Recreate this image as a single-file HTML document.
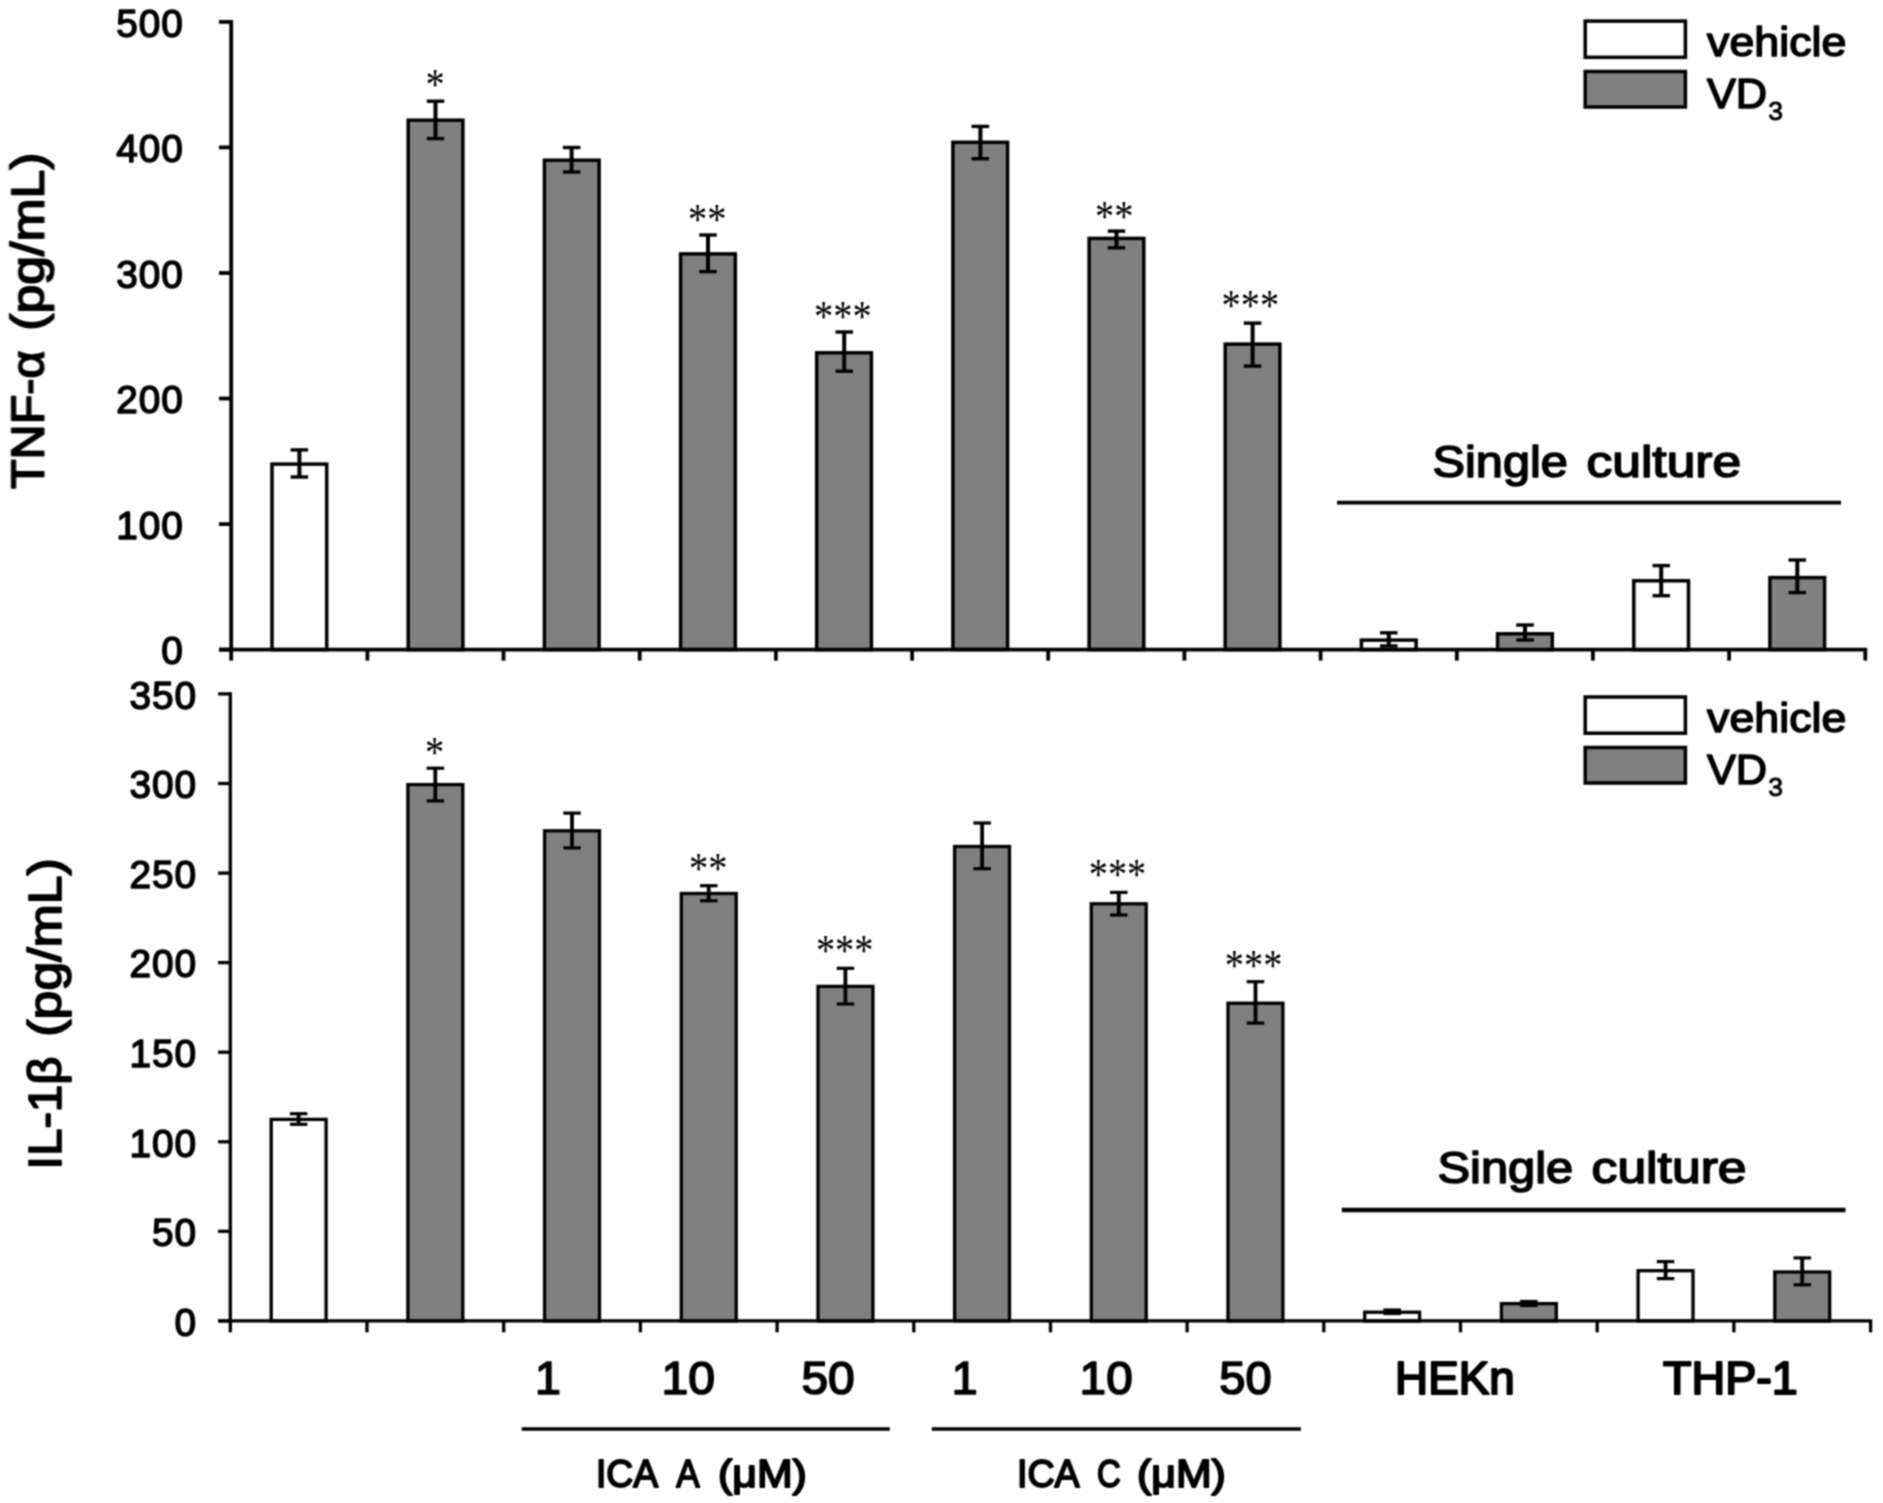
<!DOCTYPE html>
<html lang="en">
<head>
<meta charset="utf-8">
<title>TNF-α and IL-1β levels</title>
<style>
html,body{margin:0;padding:0;background:#fff;}
body{width:1883px;height:1503px;overflow:hidden;}
svg{display:block;}
text{fill:#000;}
</style>
</head>
<body>
<svg width="1883" height="1503" viewBox="0 0 1883 1503">
<defs><filter id="soft" x="0" y="0" width="100%" height="100%" color-interpolation-filters="sRGB"><feConvolveMatrix order="3" kernelMatrix="1 2 1 2 4 2 1 2 1" edgeMode="duplicate" preserveAlpha="true"/></filter></defs>
<g filter="url(#soft)">
<rect width="1883" height="1503" fill="#fff"/>
<rect x="272.0" y="464.1" width="54.7" height="185.5" fill="#fff" stroke="#000" stroke-width="3.5"/>
<rect x="408.2" y="120.2" width="54.7" height="529.5" fill="#808080" stroke="#000" stroke-width="3.5"/>
<rect x="544.4" y="160.2" width="54.7" height="489.4" fill="#808080" stroke="#000" stroke-width="3.5"/>
<rect x="680.6" y="253.9" width="54.7" height="395.7" fill="#808080" stroke="#000" stroke-width="3.5"/>
<rect x="816.7" y="352.8" width="54.7" height="296.9" fill="#808080" stroke="#000" stroke-width="3.5"/>
<rect x="952.9" y="142.3" width="54.7" height="507.2" fill="#808080" stroke="#000" stroke-width="3.5"/>
<rect x="1089.1" y="238.4" width="54.7" height="411.2" fill="#808080" stroke="#000" stroke-width="3.5"/>
<rect x="1225.2" y="344.1" width="54.7" height="305.5" fill="#808080" stroke="#000" stroke-width="3.5"/>
<rect x="1361.4" y="640.1" width="54.7" height="9.5" fill="#fff" stroke="#000" stroke-width="3.5"/>
<rect x="1497.6" y="633.8" width="54.7" height="15.9" fill="#808080" stroke="#000" stroke-width="3.5"/>
<rect x="1633.8" y="580.8" width="54.7" height="68.9" fill="#fff" stroke="#000" stroke-width="3.5"/>
<rect x="1769.9" y="577.6" width="54.7" height="72.0" fill="#808080" stroke="#000" stroke-width="3.5"/>
<line x1="299.4" y1="449.9" x2="299.4" y2="477.0" stroke="#000" stroke-width="4.0"/>
<line x1="290.6" y1="449.9" x2="308.1" y2="449.9" stroke="#000" stroke-width="3.4"/>
<line x1="290.6" y1="477.0" x2="308.1" y2="477.0" stroke="#000" stroke-width="3.4"/>
<line x1="435.5" y1="101.2" x2="435.5" y2="138.6" stroke="#000" stroke-width="4.0"/>
<line x1="426.8" y1="101.2" x2="444.2" y2="101.2" stroke="#000" stroke-width="3.4"/>
<line x1="426.8" y1="138.6" x2="444.2" y2="138.6" stroke="#000" stroke-width="3.4"/>
<line x1="571.6" y1="147.5" x2="571.6" y2="172.0" stroke="#000" stroke-width="4.0"/>
<line x1="562.9" y1="147.5" x2="580.4" y2="147.5" stroke="#000" stroke-width="3.4"/>
<line x1="562.9" y1="172.0" x2="580.4" y2="172.0" stroke="#000" stroke-width="3.4"/>
<line x1="708.0" y1="235.0" x2="708.0" y2="271.6" stroke="#000" stroke-width="4.0"/>
<line x1="699.2" y1="235.0" x2="716.8" y2="235.0" stroke="#000" stroke-width="3.4"/>
<line x1="699.2" y1="271.6" x2="716.8" y2="271.6" stroke="#000" stroke-width="3.4"/>
<line x1="844.2" y1="332.0" x2="844.2" y2="371.2" stroke="#000" stroke-width="4.0"/>
<line x1="835.5" y1="332.0" x2="853.0" y2="332.0" stroke="#000" stroke-width="3.4"/>
<line x1="835.5" y1="371.2" x2="853.0" y2="371.2" stroke="#000" stroke-width="3.4"/>
<line x1="980.4" y1="126.4" x2="980.4" y2="158.7" stroke="#000" stroke-width="4.0"/>
<line x1="971.6" y1="126.4" x2="989.1" y2="126.4" stroke="#000" stroke-width="3.4"/>
<line x1="971.6" y1="158.7" x2="989.1" y2="158.7" stroke="#000" stroke-width="3.4"/>
<line x1="1116.5" y1="231.1" x2="1116.5" y2="247.8" stroke="#000" stroke-width="4.0"/>
<line x1="1107.8" y1="231.1" x2="1125.2" y2="231.1" stroke="#000" stroke-width="3.4"/>
<line x1="1107.8" y1="247.8" x2="1125.2" y2="247.8" stroke="#000" stroke-width="3.4"/>
<line x1="1252.6" y1="323.1" x2="1252.6" y2="366.1" stroke="#000" stroke-width="4.0"/>
<line x1="1243.8" y1="323.1" x2="1261.3" y2="323.1" stroke="#000" stroke-width="3.4"/>
<line x1="1243.8" y1="366.1" x2="1261.3" y2="366.1" stroke="#000" stroke-width="3.4"/>
<line x1="1388.8" y1="632.8" x2="1388.8" y2="646.0" stroke="#000" stroke-width="4.0"/>
<line x1="1380.0" y1="632.8" x2="1397.5" y2="632.8" stroke="#000" stroke-width="3.4"/>
<line x1="1380.0" y1="646.0" x2="1397.5" y2="646.0" stroke="#000" stroke-width="3.4"/>
<line x1="1525.0" y1="625.0" x2="1525.0" y2="640.0" stroke="#000" stroke-width="4.0"/>
<line x1="1516.2" y1="625.0" x2="1533.8" y2="625.0" stroke="#000" stroke-width="3.4"/>
<line x1="1516.2" y1="640.0" x2="1533.8" y2="640.0" stroke="#000" stroke-width="3.4"/>
<line x1="1661.2" y1="565.6" x2="1661.2" y2="595.7" stroke="#000" stroke-width="4.0"/>
<line x1="1652.5" y1="565.6" x2="1670.0" y2="565.6" stroke="#000" stroke-width="3.4"/>
<line x1="1652.5" y1="595.7" x2="1670.0" y2="595.7" stroke="#000" stroke-width="3.4"/>
<line x1="1797.3" y1="560.0" x2="1797.3" y2="592.6" stroke="#000" stroke-width="4.0"/>
<line x1="1788.5" y1="560.0" x2="1806.0" y2="560.0" stroke="#000" stroke-width="3.4"/>
<line x1="1788.5" y1="592.6" x2="1806.0" y2="592.6" stroke="#000" stroke-width="3.4"/>
<line x1="231.2" y1="20.0" x2="231.2" y2="651.5" stroke="#000" stroke-width="3.8"/>
<line x1="219.0" y1="649.6" x2="1867.2" y2="649.6" stroke="#000" stroke-width="3.8"/>
<line x1="219.0" y1="649.6" x2="231.2" y2="649.6" stroke="#000" stroke-width="3.8"/>
<line x1="219.0" y1="524.1" x2="231.2" y2="524.1" stroke="#000" stroke-width="3.8"/>
<line x1="219.0" y1="398.5" x2="231.2" y2="398.5" stroke="#000" stroke-width="3.8"/>
<line x1="219.0" y1="273.0" x2="231.2" y2="273.0" stroke="#000" stroke-width="3.8"/>
<line x1="219.0" y1="147.4" x2="231.2" y2="147.4" stroke="#000" stroke-width="3.8"/>
<line x1="219.0" y1="21.9" x2="231.2" y2="21.9" stroke="#000" stroke-width="3.8"/>
<line x1="231.2" y1="649.6" x2="231.2" y2="660.6" stroke="#000" stroke-width="3.8"/>
<line x1="367.4" y1="649.6" x2="367.4" y2="660.6" stroke="#000" stroke-width="3.8"/>
<line x1="503.5" y1="649.6" x2="503.5" y2="660.6" stroke="#000" stroke-width="3.8"/>
<line x1="639.7" y1="649.6" x2="639.7" y2="660.6" stroke="#000" stroke-width="3.8"/>
<line x1="775.9" y1="649.6" x2="775.9" y2="660.6" stroke="#000" stroke-width="3.8"/>
<line x1="912.1" y1="649.6" x2="912.1" y2="660.6" stroke="#000" stroke-width="3.8"/>
<line x1="1048.2" y1="649.6" x2="1048.2" y2="660.6" stroke="#000" stroke-width="3.8"/>
<line x1="1184.4" y1="649.6" x2="1184.4" y2="660.6" stroke="#000" stroke-width="3.8"/>
<line x1="1320.6" y1="649.6" x2="1320.6" y2="660.6" stroke="#000" stroke-width="3.8"/>
<line x1="1456.8" y1="649.6" x2="1456.8" y2="660.6" stroke="#000" stroke-width="3.8"/>
<line x1="1592.9" y1="649.6" x2="1592.9" y2="660.6" stroke="#000" stroke-width="3.8"/>
<line x1="1729.1" y1="649.6" x2="1729.1" y2="660.6" stroke="#000" stroke-width="3.8"/>
<line x1="1865.3" y1="649.6" x2="1865.3" y2="660.6" stroke="#000" stroke-width="3.8"/>
<rect x="271.2" y="1119.4" width="54.9" height="201.5" fill="#fff" stroke="#000" stroke-width="3.3"/>
<rect x="407.9" y="784.6" width="54.9" height="536.3" fill="#808080" stroke="#000" stroke-width="3.3"/>
<rect x="544.6" y="830.8" width="54.9" height="490.2" fill="#808080" stroke="#000" stroke-width="3.3"/>
<rect x="681.3" y="893.5" width="54.9" height="427.4" fill="#808080" stroke="#000" stroke-width="3.3"/>
<rect x="818.0" y="986.4" width="54.9" height="334.6" fill="#808080" stroke="#000" stroke-width="3.3"/>
<rect x="954.6" y="846.5" width="54.9" height="474.4" fill="#808080" stroke="#000" stroke-width="3.3"/>
<rect x="1091.3" y="903.8" width="54.9" height="417.2" fill="#808080" stroke="#000" stroke-width="3.3"/>
<rect x="1228.0" y="1003.2" width="54.9" height="317.7" fill="#808080" stroke="#000" stroke-width="3.3"/>
<rect x="1364.7" y="1312.2" width="54.9" height="8.8" fill="#fff" stroke="#000" stroke-width="3.3"/>
<rect x="1501.4" y="1303.6" width="54.9" height="17.3" fill="#808080" stroke="#000" stroke-width="3.3"/>
<rect x="1638.1" y="1270.7" width="54.9" height="50.2" fill="#fff" stroke="#000" stroke-width="3.3"/>
<rect x="1774.8" y="1272.0" width="54.9" height="49.0" fill="#808080" stroke="#000" stroke-width="3.3"/>
<line x1="298.6" y1="1113.7" x2="298.6" y2="1124.3" stroke="#000" stroke-width="3.8"/>
<line x1="289.9" y1="1113.7" x2="307.4" y2="1113.7" stroke="#000" stroke-width="3.1999999999999997"/>
<line x1="289.9" y1="1124.3" x2="307.4" y2="1124.3" stroke="#000" stroke-width="3.1999999999999997"/>
<line x1="435.3" y1="768.2" x2="435.3" y2="800.9" stroke="#000" stroke-width="3.8"/>
<line x1="426.6" y1="768.2" x2="444.1" y2="768.2" stroke="#000" stroke-width="3.1999999999999997"/>
<line x1="426.6" y1="800.9" x2="444.1" y2="800.9" stroke="#000" stroke-width="3.1999999999999997"/>
<line x1="572.0" y1="813.1" x2="572.0" y2="847.9" stroke="#000" stroke-width="3.8"/>
<line x1="563.3" y1="813.1" x2="580.8" y2="813.1" stroke="#000" stroke-width="3.1999999999999997"/>
<line x1="563.3" y1="847.9" x2="580.8" y2="847.9" stroke="#000" stroke-width="3.1999999999999997"/>
<line x1="708.7" y1="885.7" x2="708.7" y2="900.8" stroke="#000" stroke-width="3.8"/>
<line x1="700.0" y1="885.7" x2="717.5" y2="885.7" stroke="#000" stroke-width="3.1999999999999997"/>
<line x1="700.0" y1="900.8" x2="717.5" y2="900.8" stroke="#000" stroke-width="3.1999999999999997"/>
<line x1="845.4" y1="968.3" x2="845.4" y2="1004.0" stroke="#000" stroke-width="3.8"/>
<line x1="836.7" y1="968.3" x2="854.2" y2="968.3" stroke="#000" stroke-width="3.1999999999999997"/>
<line x1="836.7" y1="1004.0" x2="854.2" y2="1004.0" stroke="#000" stroke-width="3.1999999999999997"/>
<line x1="982.1" y1="823.0" x2="982.1" y2="868.7" stroke="#000" stroke-width="3.8"/>
<line x1="973.4" y1="823.0" x2="990.9" y2="823.0" stroke="#000" stroke-width="3.1999999999999997"/>
<line x1="973.4" y1="868.7" x2="990.9" y2="868.7" stroke="#000" stroke-width="3.1999999999999997"/>
<line x1="1118.8" y1="892.4" x2="1118.8" y2="915.0" stroke="#000" stroke-width="3.8"/>
<line x1="1110.0" y1="892.4" x2="1127.5" y2="892.4" stroke="#000" stroke-width="3.1999999999999997"/>
<line x1="1110.0" y1="915.0" x2="1127.5" y2="915.0" stroke="#000" stroke-width="3.1999999999999997"/>
<line x1="1255.5" y1="981.7" x2="1255.5" y2="1023.1" stroke="#000" stroke-width="3.8"/>
<line x1="1246.7" y1="981.7" x2="1264.2" y2="981.7" stroke="#000" stroke-width="3.1999999999999997"/>
<line x1="1246.7" y1="1023.1" x2="1264.2" y2="1023.1" stroke="#000" stroke-width="3.1999999999999997"/>
<line x1="1392.2" y1="1310.0" x2="1392.2" y2="1313.5" stroke="#000" stroke-width="3.8"/>
<line x1="1383.4" y1="1310.0" x2="1400.9" y2="1310.0" stroke="#000" stroke-width="3.1999999999999997"/>
<line x1="1383.4" y1="1313.5" x2="1400.9" y2="1313.5" stroke="#000" stroke-width="3.1999999999999997"/>
<line x1="1528.9" y1="1301.5" x2="1528.9" y2="1305.5" stroke="#000" stroke-width="3.8"/>
<line x1="1520.1" y1="1301.5" x2="1537.6" y2="1301.5" stroke="#000" stroke-width="3.1999999999999997"/>
<line x1="1520.1" y1="1305.5" x2="1537.6" y2="1305.5" stroke="#000" stroke-width="3.1999999999999997"/>
<line x1="1665.6" y1="1261.6" x2="1665.6" y2="1278.6" stroke="#000" stroke-width="3.8"/>
<line x1="1656.8" y1="1261.6" x2="1674.3" y2="1261.6" stroke="#000" stroke-width="3.1999999999999997"/>
<line x1="1656.8" y1="1278.6" x2="1674.3" y2="1278.6" stroke="#000" stroke-width="3.1999999999999997"/>
<line x1="1802.2" y1="1257.9" x2="1802.2" y2="1284.8" stroke="#000" stroke-width="3.8"/>
<line x1="1793.5" y1="1257.9" x2="1811.0" y2="1257.9" stroke="#000" stroke-width="3.1999999999999997"/>
<line x1="1793.5" y1="1284.8" x2="1811.0" y2="1284.8" stroke="#000" stroke-width="3.1999999999999997"/>
<line x1="230.3" y1="692.2" x2="230.3" y2="1322.6" stroke="#000" stroke-width="3.3"/>
<line x1="218.1" y1="1320.9" x2="1872.2" y2="1320.9" stroke="#000" stroke-width="3.3"/>
<line x1="218.1" y1="1320.9" x2="230.3" y2="1320.9" stroke="#000" stroke-width="3.3"/>
<line x1="218.1" y1="1231.3" x2="230.3" y2="1231.3" stroke="#000" stroke-width="3.3"/>
<line x1="218.1" y1="1141.8" x2="230.3" y2="1141.8" stroke="#000" stroke-width="3.3"/>
<line x1="218.1" y1="1052.2" x2="230.3" y2="1052.2" stroke="#000" stroke-width="3.3"/>
<line x1="218.1" y1="962.6" x2="230.3" y2="962.6" stroke="#000" stroke-width="3.3"/>
<line x1="218.1" y1="873.1" x2="230.3" y2="873.1" stroke="#000" stroke-width="3.3"/>
<line x1="218.1" y1="783.5" x2="230.3" y2="783.5" stroke="#000" stroke-width="3.3"/>
<line x1="218.1" y1="693.9" x2="230.3" y2="693.9" stroke="#000" stroke-width="3.3"/>
<line x1="230.3" y1="1320.9" x2="230.3" y2="1332.3" stroke="#000" stroke-width="3.3"/>
<line x1="367.0" y1="1320.9" x2="367.0" y2="1332.3" stroke="#000" stroke-width="3.3"/>
<line x1="503.7" y1="1320.9" x2="503.7" y2="1332.3" stroke="#000" stroke-width="3.3"/>
<line x1="640.4" y1="1320.9" x2="640.4" y2="1332.3" stroke="#000" stroke-width="3.3"/>
<line x1="777.1" y1="1320.9" x2="777.1" y2="1332.3" stroke="#000" stroke-width="3.3"/>
<line x1="913.8" y1="1320.9" x2="913.8" y2="1332.3" stroke="#000" stroke-width="3.3"/>
<line x1="1050.5" y1="1320.9" x2="1050.5" y2="1332.3" stroke="#000" stroke-width="3.3"/>
<line x1="1187.1" y1="1320.9" x2="1187.1" y2="1332.3" stroke="#000" stroke-width="3.3"/>
<line x1="1323.8" y1="1320.9" x2="1323.8" y2="1332.3" stroke="#000" stroke-width="3.3"/>
<line x1="1460.5" y1="1320.9" x2="1460.5" y2="1332.3" stroke="#000" stroke-width="3.3"/>
<line x1="1597.2" y1="1320.9" x2="1597.2" y2="1332.3" stroke="#000" stroke-width="3.3"/>
<line x1="1733.9" y1="1320.9" x2="1733.9" y2="1332.3" stroke="#000" stroke-width="3.3"/>
<line x1="1870.6" y1="1320.9" x2="1870.6" y2="1332.3" stroke="#000" stroke-width="3.3"/>
<rect x="1585.2" y="21.1" width="100.2" height="36.2" fill="#fff" stroke="#000" stroke-width="3.5"/>
<rect x="1585.2" y="71.5" width="100.2" height="35.5" fill="#808080" stroke="#000" stroke-width="3.5"/>
<rect x="1585.2" y="697.0" width="100.2" height="36.2" fill="#fff" stroke="#000" stroke-width="3.5"/>
<rect x="1585.2" y="747.5" width="100.2" height="35.5" fill="#808080" stroke="#000" stroke-width="3.5"/>
<line x1="1337.0" y1="502.7" x2="1841.0" y2="502.7" stroke="#000" stroke-width="3.8"/>
<line x1="1341.8" y1="1210.0" x2="1845.5" y2="1210.0" stroke="#000" stroke-width="4.6"/>
<line x1="521.7" y1="1429.0" x2="889.8" y2="1429.0" stroke="#000" stroke-width="3.6"/>
<line x1="931.8" y1="1429.0" x2="1300.9" y2="1429.0" stroke="#000" stroke-width="3.6"/>
<text x="183.7" y="664.3" font-family="'Liberation Sans', sans-serif" font-size="38.8" stroke="#000" stroke-width="1.44" stroke-linejoin="round" letter-spacing="0.9" text-anchor="end">0</text>
<text x="183.7" y="538.8" font-family="'Liberation Sans', sans-serif" font-size="38.8" stroke="#000" stroke-width="1.44" stroke-linejoin="round" letter-spacing="0.9" text-anchor="end">100</text>
<text x="183.7" y="413.2" font-family="'Liberation Sans', sans-serif" font-size="38.8" stroke="#000" stroke-width="1.44" stroke-linejoin="round" letter-spacing="0.9" text-anchor="end">200</text>
<text x="183.7" y="287.7" font-family="'Liberation Sans', sans-serif" font-size="38.8" stroke="#000" stroke-width="1.44" stroke-linejoin="round" letter-spacing="0.9" text-anchor="end">300</text>
<text x="183.7" y="162.1" font-family="'Liberation Sans', sans-serif" font-size="38.8" stroke="#000" stroke-width="1.44" stroke-linejoin="round" letter-spacing="0.9" text-anchor="end">400</text>
<text x="183.7" y="36.6" font-family="'Liberation Sans', sans-serif" font-size="38.8" stroke="#000" stroke-width="1.44" stroke-linejoin="round" letter-spacing="0.9" text-anchor="end">500</text>
<text x="435.0" y="99.1" font-family="'Liberation Serif', serif" font-size="44" textLength="19.2" lengthAdjust="spacingAndGlyphs" text-anchor="middle">*</text>
<text x="707.2" y="234.3" font-family="'Liberation Serif', serif" font-size="44" textLength="38.4" lengthAdjust="spacingAndGlyphs" text-anchor="middle">**</text>
<text x="842.9" y="331.1" font-family="'Liberation Serif', serif" font-size="44" textLength="57.6" lengthAdjust="spacingAndGlyphs" text-anchor="middle">***</text>
<text x="1114.2" y="231.1" font-family="'Liberation Serif', serif" font-size="44" textLength="38.4" lengthAdjust="spacingAndGlyphs" text-anchor="middle">**</text>
<text x="1250.3" y="320.2" font-family="'Liberation Serif', serif" font-size="44" textLength="57.6" lengthAdjust="spacingAndGlyphs" text-anchor="middle">***</text>
<text x="196.9" y="1335.6" font-family="'Liberation Sans', sans-serif" font-size="38.8" stroke="#000" stroke-width="1.44" stroke-linejoin="round" letter-spacing="0.9" text-anchor="end">0</text>
<text x="196.9" y="1246.0" font-family="'Liberation Sans', sans-serif" font-size="38.8" stroke="#000" stroke-width="1.44" stroke-linejoin="round" letter-spacing="0.9" text-anchor="end">50</text>
<text x="196.9" y="1156.5" font-family="'Liberation Sans', sans-serif" font-size="38.8" stroke="#000" stroke-width="1.44" stroke-linejoin="round" letter-spacing="0.9" text-anchor="end">100</text>
<text x="196.9" y="1066.9" font-family="'Liberation Sans', sans-serif" font-size="38.8" stroke="#000" stroke-width="1.44" stroke-linejoin="round" letter-spacing="0.9" text-anchor="end">150</text>
<text x="196.9" y="977.3" font-family="'Liberation Sans', sans-serif" font-size="38.8" stroke="#000" stroke-width="1.44" stroke-linejoin="round" letter-spacing="0.9" text-anchor="end">200</text>
<text x="196.9" y="887.8" font-family="'Liberation Sans', sans-serif" font-size="38.8" stroke="#000" stroke-width="1.44" stroke-linejoin="round" letter-spacing="0.9" text-anchor="end">250</text>
<text x="196.9" y="798.2" font-family="'Liberation Sans', sans-serif" font-size="38.8" stroke="#000" stroke-width="1.44" stroke-linejoin="round" letter-spacing="0.9" text-anchor="end">300</text>
<text x="196.9" y="708.6" font-family="'Liberation Sans', sans-serif" font-size="38.8" stroke="#000" stroke-width="1.44" stroke-linejoin="round" letter-spacing="0.9" text-anchor="end">350</text>
<text x="434.5" y="766.7" font-family="'Liberation Serif', serif" font-size="44" textLength="19.2" lengthAdjust="spacingAndGlyphs" text-anchor="middle">*</text>
<text x="708.3" y="882.7" font-family="'Liberation Serif', serif" font-size="44" textLength="38.4" lengthAdjust="spacingAndGlyphs" text-anchor="middle">**</text>
<text x="844.7" y="965.4" font-family="'Liberation Serif', serif" font-size="44" textLength="57.6" lengthAdjust="spacingAndGlyphs" text-anchor="middle">***</text>
<text x="1117.5" y="888.6" font-family="'Liberation Serif', serif" font-size="44" textLength="57.6" lengthAdjust="spacingAndGlyphs" text-anchor="middle">***</text>
<text x="1253.6" y="980.2" font-family="'Liberation Serif', serif" font-size="44" textLength="57.6" lengthAdjust="spacingAndGlyphs" text-anchor="middle">***</text>
<text x="1707.07" y="56.1" font-family="'Liberation Sans', sans-serif" font-size="40.5" stroke="#000" stroke-width="1.50" stroke-linejoin="round" textLength="139.35" lengthAdjust="spacingAndGlyphs">vehicle</text>
<text font-family="'Liberation Sans', sans-serif" stroke="#000" stroke-linejoin="round"><tspan x="1706.98" y="107.7" font-size="42" stroke-width="1.55" textLength="60.20" lengthAdjust="spacingAndGlyphs">VD</tspan><tspan x="1775.60" y="120.3" font-size="26.5" stroke-width="0.98" text-anchor="middle">3</tspan></text>
<text x="1707.07" y="732.1" font-family="'Liberation Sans', sans-serif" font-size="40.5" stroke="#000" stroke-width="1.50" stroke-linejoin="round" textLength="139.35" lengthAdjust="spacingAndGlyphs">vehicle</text>
<text font-family="'Liberation Sans', sans-serif" stroke="#000" stroke-linejoin="round"><tspan x="1706.98" y="783.7" font-size="42" stroke-width="1.55" textLength="60.20" lengthAdjust="spacingAndGlyphs">VD</tspan><tspan x="1775.60" y="796.3" font-size="26.5" stroke-width="0.98" text-anchor="middle">3</tspan></text>
<text font-family="'Liberation Sans', sans-serif" stroke="#000" stroke-linejoin="round"><tspan x="1432.58" y="477.1" font-size="43.5" stroke-width="1.61" textLength="135.30" lengthAdjust="spacingAndGlyphs">Single</tspan> <tspan x="1586.48" y="477.1" font-size="43.5" stroke-width="1.61" textLength="154.70" lengthAdjust="spacingAndGlyphs">culture</tspan></text>
<text font-family="'Liberation Sans', sans-serif" stroke="#000" stroke-linejoin="round"><tspan x="1437.48" y="1182.8" font-size="43.5" stroke-width="1.61" textLength="135.80" lengthAdjust="spacingAndGlyphs">Single</tspan> <tspan x="1591.58" y="1182.8" font-size="43.5" stroke-width="1.61" textLength="155.00" lengthAdjust="spacingAndGlyphs">culture</tspan></text>
<text x="547.90" y="1394.1" font-family="'Liberation Sans', sans-serif" font-size="46.5" stroke="#000" stroke-width="1.72" stroke-linejoin="round" text-anchor="middle">1</text>
<text x="661.51" y="1394.1" font-family="'Liberation Sans', sans-serif" font-size="46.5" stroke="#000" stroke-width="1.72" stroke-linejoin="round" textLength="53.55" lengthAdjust="spacingAndGlyphs">10</text>
<text x="801.51" y="1394.1" font-family="'Liberation Sans', sans-serif" font-size="46.5" stroke="#000" stroke-width="1.72" stroke-linejoin="round" textLength="53.25" lengthAdjust="spacingAndGlyphs">50</text>
<text x="964.75" y="1394.1" font-family="'Liberation Sans', sans-serif" font-size="46.5" stroke="#000" stroke-width="1.72" stroke-linejoin="round" text-anchor="middle">1</text>
<text x="1079.61" y="1394.1" font-family="'Liberation Sans', sans-serif" font-size="46.5" stroke="#000" stroke-width="1.72" stroke-linejoin="round" textLength="53.05" lengthAdjust="spacingAndGlyphs">10</text>
<text x="1219.31" y="1394.1" font-family="'Liberation Sans', sans-serif" font-size="46.5" stroke="#000" stroke-width="1.72" stroke-linejoin="round" textLength="52.25" lengthAdjust="spacingAndGlyphs">50</text>
<text x="1395.14" y="1393.7" font-family="'Liberation Sans', sans-serif" font-size="45.5" stroke="#000" stroke-width="2.14" stroke-linejoin="round" textLength="119.50" lengthAdjust="spacingAndGlyphs">HEKn</text>
<text x="1663.04" y="1393.7" font-family="'Liberation Sans', sans-serif" font-size="45.5" stroke="#000" stroke-width="2.14" stroke-linejoin="round" textLength="134.70" lengthAdjust="spacingAndGlyphs">THP-1</text>
<text font-family="'Liberation Sans', sans-serif" stroke="#000" stroke-linejoin="round"><tspan x="595.89" y="1486.9" font-size="38" stroke-width="1.86" textLength="62.25" lengthAdjust="spacingAndGlyphs">ICA</tspan> <tspan x="676.19" y="1486.9" font-size="38" stroke-width="1.86" textLength="23.35" lengthAdjust="spacingAndGlyphs">A</tspan> <tspan x="717.99" y="1486.9" font-size="38" stroke-width="1.86" textLength="88.85" lengthAdjust="spacingAndGlyphs">(μM)</tspan></text>
<text font-family="'Liberation Sans', sans-serif" stroke="#000" stroke-linejoin="round"><tspan x="1016.99" y="1486.9" font-size="38" stroke-width="1.86" textLength="62.65" lengthAdjust="spacingAndGlyphs">ICA</tspan> <tspan x="1096.89" y="1486.9" font-size="38" stroke-width="1.86" textLength="23.75" lengthAdjust="spacingAndGlyphs">C</tspan> <tspan x="1136.99" y="1486.9" font-size="38" stroke-width="1.86" textLength="88.85" lengthAdjust="spacingAndGlyphs">(μM)</tspan></text>
<text transform="translate(43.7 0) rotate(-90)" font-family="'Liberation Sans', sans-serif" stroke="#000" stroke-linejoin="round"><tspan x="-489.06" y="0" font-size="46" stroke-width="1.70" textLength="138.60" lengthAdjust="spacingAndGlyphs">TNF-α</tspan> <tspan x="-330.76" y="0" font-size="46" stroke-width="1.70" textLength="178.20" lengthAdjust="spacingAndGlyphs">(pg/mL)</tspan></text>
<text transform="translate(61.0 0) rotate(-90)" font-family="'Liberation Sans', sans-serif" stroke="#000" stroke-linejoin="round"><tspan x="-1169.69" y="0" font-size="46.5" stroke-width="1.72" textLength="113.35" lengthAdjust="spacingAndGlyphs">IL-1β</tspan> <tspan x="-1036.69" y="0" font-size="46.5" stroke-width="1.72" textLength="178.55" lengthAdjust="spacingAndGlyphs">(pg/mL)</tspan></text>
</g>
</svg>
</body>
</html>
